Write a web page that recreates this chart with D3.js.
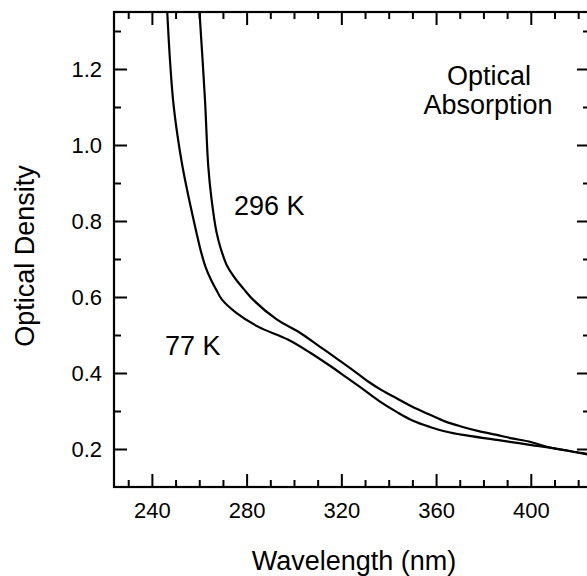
<!DOCTYPE html>
<html>
<head>
<meta charset="utf-8">
<script src="https://cdn.jsdelivr.net/npm/d3@7"></script>
<style>
  body { margin: 0; background: #fff; }
  svg text { font-family: "Liberation Sans", Arial, sans-serif; fill: #000; }
</style>
</head>
<body>
<svg id="chart" width="587" height="576"></svg>
<script>
// Spectra (wavelength in nm, optical density)
var wl77 = [246.4, 247.6, 248.9, 250.6, 252.9, 255.7, 258.8, 260.5, 262.6, 264.9, 267.1, 269.6, 275.5, 284.8, 297.4, 306.7, 315.2, 322, 329, 336, 343.5, 350, 357.4, 364, 371.3, 385.7, 399.6, 413.5, 425];
var od77 = [1.36, 1.227, 1.121, 1.034, 0.944, 0.857, 0.77, 0.725, 0.68, 0.646, 0.62, 0.593, 0.559, 0.522, 0.488, 0.454, 0.419, 0.389, 0.358, 0.326, 0.297, 0.275, 0.258, 0.246, 0.237, 0.224, 0.211, 0.198, 0.184];

var wl296 = [260, 262.4, 263.8, 265.2, 267.3, 269.2, 271.9, 275.5, 278.9, 282.7, 292.7, 302.5, 311, 319.4, 325, 331, 337, 343.5, 350, 357.4, 364, 371.3, 378, 385.7, 392, 399.6, 406.8, 415, 425];
var od296 = [1.36, 1.121, 0.944, 0.857, 0.77, 0.725, 0.68, 0.646, 0.62, 0.593, 0.541, 0.506, 0.469, 0.432, 0.407, 0.379, 0.355, 0.333, 0.311, 0.29, 0.272, 0.258, 0.247, 0.237, 0.228, 0.219, 0.206, 0.196, 0.186];

// Axis ticks
var xMajor = [240, 280, 320, 360, 400];
var xMinor = [230, 250, 260, 270, 290, 300, 310, 330, 340, 350, 370, 380, 390, 410, 420];
var yMajor = [0.2, 0.4, 0.6, 0.8, 1.0, 1.2];
var yMinor = [0.3, 0.5, 0.7, 0.9, 1.1, 1.3];

// Plot frame (right edge sits just past the picture, as in the scan)
var frame = { left: 114, right: 590, top: 12, bottom: 487 };

var svg = d3.select("#chart");

var x = d3.scaleLinear()
    .domain([224, 425])
    .range([frame.left, frame.right]);

var y = d3.scaleLinear()
    .domain([0.1, 1.35])
    .range([frame.bottom, frame.top]);

function styleAxis(g) {
    g.select(".domain").remove();
    g.selectAll(".tick line").attr("stroke", "#000").attr("stroke-width", 2);
    g.selectAll(".tick text").style("font-size", "22px").attr("fill", "#000");
}

// bottom axis: inward ticks, labels below
svg.append("g")
    .attr("transform", "translate(0," + frame.bottom + ")")
    .call(d3.axisBottom(x).tickValues(xMajor).tickSize(-13).tickPadding(15).tickFormat(d3.format("d")))
    .call(styleAxis);
svg.append("g")
    .attr("transform", "translate(0," + frame.bottom + ")")
    .call(d3.axisBottom(x).tickValues(xMinor).tickSize(-7).tickFormat(""))
    .call(styleAxis);

// top axis: ticks only
svg.append("g")
    .attr("transform", "translate(0," + frame.top + ")")
    .call(d3.axisTop(x).tickValues(xMajor).tickSize(-13).tickFormat(""))
    .call(styleAxis);
svg.append("g")
    .attr("transform", "translate(0," + frame.top + ")")
    .call(d3.axisTop(x).tickValues(xMinor).tickSize(-7).tickFormat(""))
    .call(styleAxis);

// left axis
svg.append("g")
    .attr("transform", "translate(" + frame.left + ",0)")
    .call(d3.axisLeft(y).tickValues(yMajor).tickSize(-13).tickPadding(12).tickFormat(d3.format(".1f")))
    .call(styleAxis);
svg.append("g")
    .attr("transform", "translate(" + frame.left + ",0)")
    .call(d3.axisLeft(y).tickValues(yMinor).tickSize(-7).tickFormat(""))
    .call(styleAxis);

// right axis: ticks only
svg.append("g")
    .attr("transform", "translate(" + frame.right + ",0)")
    .call(d3.axisRight(y).tickValues(yMajor).tickSize(-13).tickFormat(""))
    .call(styleAxis);
svg.append("g")
    .attr("transform", "translate(" + frame.right + ",0)")
    .call(d3.axisRight(y).tickValues(yMinor).tickSize(-7).tickFormat(""))
    .call(styleAxis);

// frame
svg.append("rect")
    .attr("x", frame.left)
    .attr("y", frame.top)
    .attr("width", frame.right - frame.left)
    .attr("height", frame.bottom - frame.top)
    .attr("fill", "none")
    .attr("stroke", "#000")
    .attr("stroke-width", 2.2);

// clip curves to the frame
svg.append("clipPath")
    .attr("id", "plotClip")
  .append("rect")
    .attr("x", frame.left)
    .attr("y", frame.top)
    .attr("width", frame.right - frame.left)
    .attr("height", frame.bottom - frame.top);

var line = d3.line()
    .x(function(d) { return x(d[0]); })
    .y(function(d) { return y(d[1]); })
    .curve(d3.curveCatmullRom.alpha(0.5));

var series = [d3.zip(wl77, od77), d3.zip(wl296, od296)];

svg.append("g")
    .attr("clip-path", "url(#plotClip)")
    .selectAll("path")
    .data(series)
    .enter()
    .append("path")
        .attr("d", line)
        .attr("fill", "none")
        .attr("stroke", "#000")
        .attr("stroke-width", 2.2);

// curve labels and panel note
svg.append("text").attr("x", 234).attr("y", 215).style("font-size", "27px").text("296 K");
svg.append("text").attr("x", 165).attr("y", 355).style("font-size", "27px").text("77 K");
svg.append("text").attr("x", 489).attr("y", 85).style("font-size", "27px").style("text-anchor", "middle").text("Optical");
svg.append("text").attr("x", 488).attr("y", 114).style("font-size", "27px").style("text-anchor", "middle").text("Absorption");

// axis titles
svg.append("text")
    .attr("x", 354)
    .attr("y", 570)
    .style("font-size", "27px")
    .style("text-anchor", "middle")
    .text("Wavelength (nm)");

svg.append("text")
    .attr("transform", "translate(34,256) rotate(-90)")
    .style("font-size", "27px")
    .style("text-anchor", "middle")
    .text("Optical Density");
</script>
</body>
</html>
